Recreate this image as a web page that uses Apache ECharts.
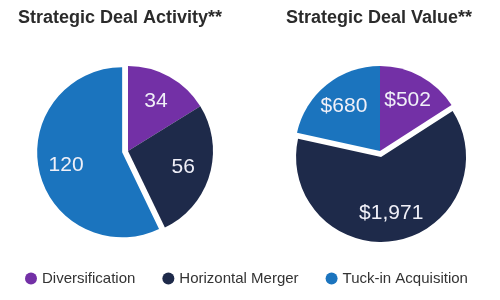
<!DOCTYPE html>
<html>
<head>
<meta charset="utf-8">
<script src="https://cdn.jsdelivr.net/npm/echarts@6/dist/echarts.min.js"></script>
<style>html,body{margin:0;padding:0;background:#fff}#c{width:500px;height:300px}</style>
</head>
<body>
<div id="c"></div>
<script>
var categories = ["Diversification", "Horizontal Merger", "Tuck-in Acquisition"];
var activityValues = [34, 56, 120];
var valueValues = [502, 1971, 680];
var valueLabels = ["$502", "$1,971", "$680"];
var activitySelected = "Tuck-in Acquisition";
var valueSelected = "Horizontal Merger";
var colors = ["#7330A6", "#1E2A4A", "#1B74BE"];

function makeData(vals, selectedName) {
  return categories.map(function (n, i) {
    return { name: n, value: vals[i], selected: n === selectedName };
  });
}

function pieSeries(vals, selName, center, labels) {
  var base = {
    type: "pie",
    center: center,
    startAngle: 90,
    clockwise: true,
    selectedMode: "single",
    selectedOffset: 6,
    animation: false,
    emphasis: { disabled: true },
    data: makeData(vals, selName)
  };
  var fill = Object.assign({}, base, {
    radius: [0, 85],
    label: { show: false },
    labelLine: { show: false },
    itemStyle: { borderWidth: 0 }
  });
  var lab = Object.assign({}, base, {
    radius: [24, 85],
    silent: true,
    itemStyle: { color: "transparent", borderWidth: 0 },
    label: {
      show: true,
      position: "inside",
      fontSize: 21,
      fontFamily: "Liberation Sans, Arial, sans-serif",
      color: "#F0F0F8",
      formatter: function (p) { return labels ? labels[p.dataIndex] : String(p.value); }
    },
    labelLine: { show: false }
  });
  return [fill, lab];
}

var chart = echarts.init(document.getElementById("c"), null, { renderer: "canvas" });
chart.setOption({
  animation: false,
  color: colors,
  title: [
    { text: "Strategic Deal Activity**", left: 115, top: 4, textAlign: "center",
      textStyle: { fontSize: 18, fontWeight: "bold", color: "#2B2B2B", fontFamily: "Liberation Sans, Arial, sans-serif" } },
    { text: "Strategic Deal Value**", left: 374, top: 4, textAlign: "center",
      textStyle: { fontSize: 18, fontWeight: "bold", color: "#2B2B2B", fontFamily: "Liberation Sans, Arial, sans-serif" } }
  ],
  legend: {
    data: categories,
    bottom: 9,
    left: 20,
    icon: "circle",
    itemWidth: 12,
    itemHeight: 12,
    itemGap: 27,
    selectedMode: false,
    textStyle: { fontSize: 15, color: "#333", fontFamily: "Liberation Sans, Arial, sans-serif" }
  },
  series: pieSeries(activityValues, activitySelected, [128, 151], null)
    .concat(pieSeries(valueValues, valueSelected, [380, 151], valueLabels))
});
</script>
</body>
</html>
